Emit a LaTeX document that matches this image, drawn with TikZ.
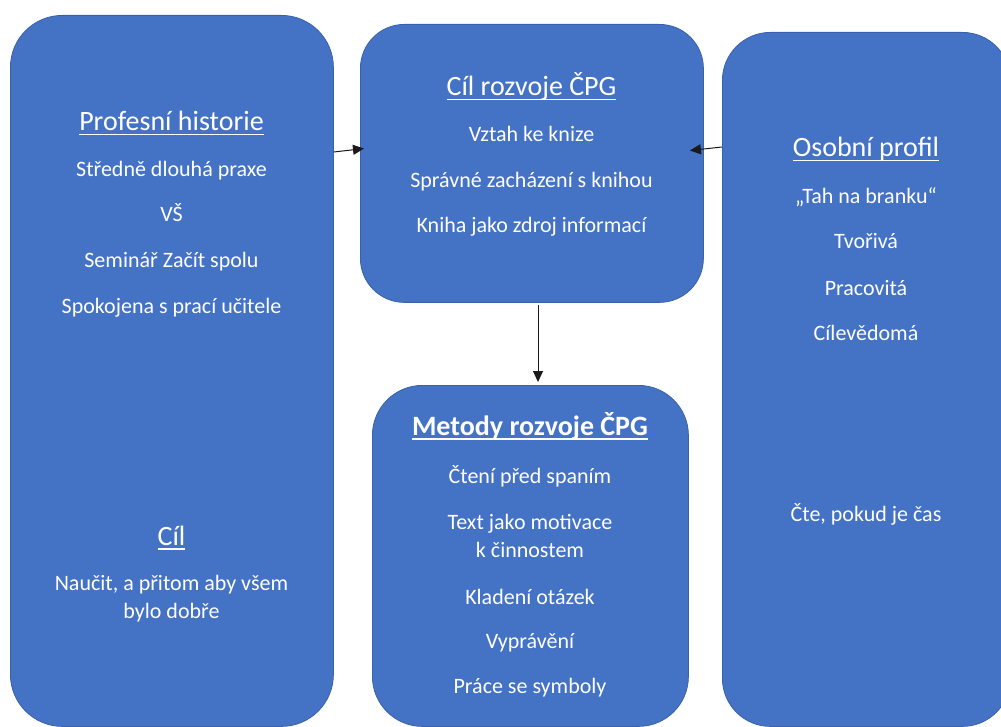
\documentclass[tikz,border=0pt]{standalone}
\usepackage{fontspec}
\setmainfont{Carlito}
\usetikzlibrary{arrows.meta}
\definecolor{boxfill}{HTML}{4472C4}
\definecolor{boxline}{HTML}{3A62AA}
\definecolor{arrowcol}{HTML}{1A1A1A}
\newcommand\myul[1]{\setbox0\hbox{#1}\rlap{\rule[-4.5pt]{\wd0}{1.4pt}}\box0}
\tikzset{
  box/.style={draw=boxline, fill=boxfill, line width=0.8pt, rounded corners=#1,
    inner sep=0pt, anchor=north west},
  txt/.style={text=white, font=\fontsize{22}{27}\selectfont, anchor=base, inner sep=0pt},
  ttl/.style={txt, font=\fontsize{28}{34}\selectfont},
  btl/.style={txt, font=\fontsize{28}{34}\selectfont\bfseries},
  arr/.style={draw=arrowcol, line width=1pt, -{Triangle[length=11pt,width=10pt]}}
}
\begin{document}
\begin{tikzpicture}[x=1pt,y=-1pt]
\useasboundingbox (0,0) rectangle (1001,727);
% boxes
\node[box=52pt, minimum width=323pt, minimum height=711pt] (L) at (10,15) {};
\node[box=44pt, minimum width=343pt, minimum height=278pt] (M) at (360,24) {};
\node[box=50pt, minimum width=316pt, minimum height=341pt] (B) at (372,385) {};
\node[box=48pt, minimum width=288pt, minimum height=694pt] (R) at (722,32) {};
% left texts
\node[ttl] (l1) at (171.5,131) {\myul{Profesní historie}};
\node[txt] (l2) at (171.5,177) {Středně dlouhá praxe};
\node[txt] (l3) at (171.5,222) {VŠ};
\node[txt] (l4) at (171.5,268) {Seminář Začít spolu};
\node[txt] (l5) at (171.5,313) {Spokojena s prací učitele};
\node[ttl] (l6) at (171.5,545) {\myul{Cíl}};
\node[txt] (l7) at (171.5,590.5) {Naučit, a přitom aby všem};
\node[txt] (l8) at (171.5,618) {bylo dobře};
% middle top texts
\node[ttl] (m1) at (531.5,96) {\myul{Cíl rozvoje ČPG}};
\node[txt] (m2) at (531.5,142) {Vztah ke knize};
\node[txt] (m3) at (531.5,188) {Správné zacházení s knihou};
\node[txt] (m4) at (531.5,233) {Kniha jako zdroj informací};
% middle bottom texts
\node[btl] (b1) at (530,435) {\myul{Metody rozvoje ČPG}};
\node[txt] (b2) at (530,483) {Čtení před spaním};
\node[txt] (b3) at (530,529) {Text jako motivace};
\node[txt] (b4) at (530,557) {k činnostem};
\node[txt] (b5) at (530,604) {Kladení otázek};
\node[txt] (b6) at (530,648) {Vyprávění};
\node[txt] (b7) at (530,693) {Práce se symboly};
% right texts
\node[ttl] (r1) at (866,157) {\myul{Osobní profil}};
\node[txt] (r2) at (866,204) {„Tah na branku“};
\node[txt] (r3) at (866,249) {Tvořivá};
\node[txt] (r4) at (866,295) {Pracovitá};
\node[txt] (r5) at (866,340) {Cílevědomá};
\node[txt] (r6) at (866,521) {Čte, pokud je čas};
% arrows
\draw[arr, shorten >=-4pt] (L.east |- 0,152) -- (M.west |- 0,149);
\draw[arr, shorten >=-14pt] (R.west |- 0,147) -- (M.east |- 0,149);
\draw[arr, shorten <=2pt, shorten >=3pt] (M.south -| 538,0) -- (B.north -| 538,0);
\end{tikzpicture}
\end{document}
